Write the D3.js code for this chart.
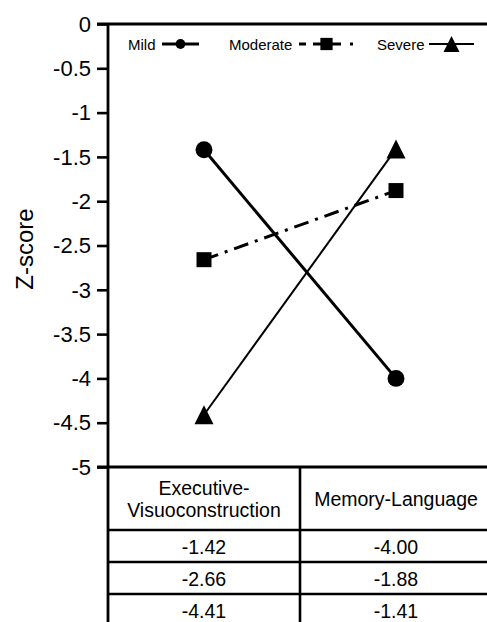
<!DOCTYPE html>
<html><head><meta charset="utf-8">
<script src="https://cdn.jsdelivr.net/npm/d3@7"></script>
<style>body{margin:0;background:#fff}svg{display:block}text{font-family:"Liberation Sans",Arial,sans-serif;fill:#000}</style>
</head><body>
<svg id="c" width="487" height="622"></svg>
<script>
const categories = ["Executive-Visuoconstruction", "Memory-Language"];
const categoryLines = [["Executive-", "Visuoconstruction"], ["Memory-Language"]];
const seriesNames = ["Mild", "Moderate", "Severe"];
const mild = [-1.42, -4.00];
const moderate = [-2.66, -1.88];
const severe = [-4.41, -1.41];
const yTicks = [0, -0.5, -1, -1.5, -2, -2.5, -3, -3.5, -4, -4.5, -5];
const tableLabels = [["-1.42", "-4.00"], ["-2.66", "-1.88"], ["-4.41", "-1.41"]];

(function () {
const tri = {draw(ctx, size) { const h = Math.sqrt(size); ctx.moveTo(0, -h / 2); ctx.lineTo(h / 2, h / 2); ctx.lineTo(-h / 2, h / 2); ctx.closePath(); }};
const series = [
  {name: seriesNames[0], values: mild, sym: d3.symbolCircle, size: 225, lsize: 75, width: 3, dash: null, ldash: null, lw: 3.2},
  {name: seriesNames[1], values: moderate, sym: d3.symbolSquare, size: 225, lsize: 150, width: 3, dash: "15,7,3,7", ldash: "7,7,28,9,3,20", lw: 3.2},
  {name: seriesNames[2], values: severe, sym: tri, size: 361, lsize: 256, width: 2, dash: null, ldash: null, lw: 2}
];

const svg = d3.select("#c");
const pL = 108, pR = 492, pT = 24, pB = 467;
const x = d3.scaleBand().domain(categories).range([pL, pR]);
const y = d3.scaleLinear().domain([0, -5]).range([pT, pB]);

const yAxis = d3.axisLeft(y).tickValues(yTicks).tickSize(11).tickPadding(6)
  .tickFormat(d => d === 0 ? "0" : String(d));
const ga = svg.append("g").attr("transform", `translate(${pL},0)`).call(yAxis);
ga.select(".domain").remove();
ga.selectAll(".tick line").attr("stroke", "#000").attr("stroke-width", 2.6);
ga.selectAll(".tick text").attr("font-size", 22).attr("font-family", "Liberation Sans, Arial, sans-serif").attr("fill", "#000").attr("dy", "0.33em");

svg.append("line").attr("x1", pL).attr("x2", pL).attr("y1", pT).attr("y2", 622).attr("stroke", "#000").attr("stroke-width", 2.8);
svg.append("line").attr("x1", pL - 11).attr("x2", 487).attr("y1", pT).attr("y2", pT).attr("stroke", "#000").attr("stroke-width", 2.8);
svg.append("line").attr("x1", pL - 11).attr("x2", 487).attr("y1", pB).attr("y2", pB).attr("stroke", "#000").attr("stroke-width", 2.8);

svg.append("text").attr("transform", `translate(33,249) rotate(-90)`)
  .attr("text-anchor", "middle").attr("font-size", 24).text("Z-score");

const cx = c => x(c) + x.bandwidth() / 2;
const line = d3.line().x((d, i) => cx(categories[i])).y(d => y(d));
series.forEach(s => {
  svg.append("path").attr("d", line(s.values)).attr("fill", "none").attr("stroke", "#000")
    .attr("stroke-width", s.width).attr("stroke-dasharray", s.dash);
  s.values.forEach((v, i) => {
    svg.append("path").attr("d", d3.symbol().type(s.sym).size(s.size)())
      .attr("transform", `translate(${cx(categories[i])},${y(v)})`)
      .attr("fill", "#000");
  });
});

const legendY = 44;
const legendItems = [
  {tx: 128, l1: 162, l2: 199},
  {tx: 229, l1: 299, l2: 354},
  {tx: 377, l1: 429, l2: 474}
];
series.forEach((s, i) => {
  const L = legendItems[i];
  svg.append("text").attr("x", L.tx).attr("y", legendY + 5.5).attr("font-size", 15).text(s.name);
  svg.append("line").attr("x1", L.l1).attr("x2", L.l2).attr("y1", legendY).attr("y2", legendY)
    .attr("stroke", "#000").attr("stroke-width", s.lw).attr("stroke-dasharray", s.ldash);
  svg.append("path").attr("d", d3.symbol().type(s.sym).size(s.lsize)())
    .attr("transform", `translate(${(L.l1 + L.l2) / 2},${legendY})`).attr("fill", "#000");
});

const headerBottom = 530, rowH = 32;
svg.append("line").attr("x1", x(categories[1])).attr("x2", x(categories[1])).attr("y1", pB).attr("y2", 622)
  .attr("stroke", "#000").attr("stroke-width", 2.6);
for (let r = 0; r < tableLabels.length; r++) {
  const yl = headerBottom + r * rowH;
  svg.append("line").attr("x1", pL).attr("x2", 487).attr("y1", yl).attr("y2", yl).attr("stroke", "#000").attr("stroke-width", 2.4);
}
categoryLines.forEach((lines, i) => {
  const mid = (pB + headerBottom) / 2;
  const lh = 22;
  lines.forEach((t, j) => {
    svg.append("text").attr("x", cx(categories[i])).attr("y", mid + (j - (lines.length - 1) / 2) * lh + 7)
      .attr("text-anchor", "middle").attr("font-size", 19.5).text(t);
  });
});
tableLabels.forEach((row, r) => {
  row.forEach((t, i) => {
    svg.append("text").attr("x", cx(categories[i])).attr("y", headerBottom + r * rowH + 23.5)
      .attr("text-anchor", "middle").attr("font-size", 19.5).text(t);
  });
});
})();
</script>
</body></html>
